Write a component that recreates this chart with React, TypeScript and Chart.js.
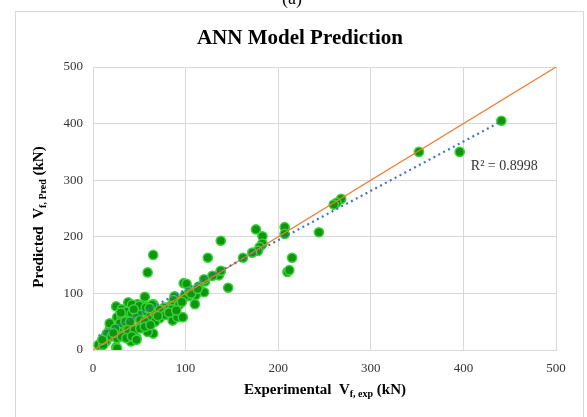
import React, { useEffect, useRef } from "react";
import { Chart, registerables } from "chart.js";

Chart.register(...registerables);

// Experimental V_f,exp (kN)
const expValues = [
  441, 352, 396, 268, 263, 260, 244, 215, 210, 212, 207, 207, 176, 183, 183, 180, 178, 172, 162,
  138, 124, 146, 138, 136, 129, 121, 120, 114, 111, 110, 98, 101, 103, 99, 88, 87, 84, 80, 77, 74,
  85, 86, 91, 97, 72, 66, 65, 56, 65, 59, 65, 59, 47, 41, 25, 18, 26, 38, 25, 31, 40, 46, 54, 51,
  54, 34, 33, 27, 8, 13, 14, 6, 48, 53, 58, 65, 31, 36, 42, 47, 53, 58, 62, 67, 72, 18, 29, 35,
  40, 51, 56, 67, 24, 38, 45, 51, 56, 62, 15, 20, 26, 31, 36, 42, 47, 11, 26, 42, 50, 57, 64, 120,
  138, 93, 96, 104, 106, 113, 78, 82, 70, 61, 44, 22, 10, 30, 90,
];
// Predicted V_f,Pred (kN)
const predValues = [
  405, 350, 350, 267, 260, 257, 208, 163, 138, 141, 217, 205, 213, 201, 188, 182, 175, 172, 163,
  193, 163, 110, 139, 132, 131, 121, 102, 112, 97, 81, 118, 117, 95, 96, 95, 88, 78, 75, 75, 71,
  72, 52, 58, 58, 56, 65, 80, 94, 168, 137, 29, 32, 21, 15, 5, 36, 58, 84, 77, 72, 58, 58, 56, 41,
  41, 47, 35, 37, 12, 23, 15, 9, 81, 79, 77, 81, 58, 68, 65, 65, 68, 68, 59, 65, 71, 47, 47, 50,
  50, 53, 50, 50, 38, 35, 35, 38, 41, 44, 29, 24, 21, 24, 21, 24, 18, 9, 3, 80, 78, 75, 80, 125,
  140, 80, 85, 103, 100, 108, 62, 66, 60, 74, 72, 30, 18, 66, 70,
];

// y = x reference line
const identityX = [0, 500];
const identityY = [0, 500];
// linear trendline
const trendX = [6, 441];
const trendY = [25, 404];

const axisTicks = [0, 100, 200, 300, 400, 500];
const chartTitle = "ANN Model Prediction";
const r2Label = "R² = 0.8998";

type Part = { t: string; sub?: boolean };

function drawParts(ctx: CanvasRenderingContext2D, parts: Part[], cx: number, baseY: number, size: number, subSize: number) {
  const mainFont = `bold ${size}px "Liberation Serif", "Times New Roman", serif`;
  const subFont = `bold ${subSize}px "Liberation Serif", "Times New Roman", serif`;
  let total = 0;
  const widths = parts.map((p) => {
    ctx.font = p.sub ? subFont : mainFont;
    const w = ctx.measureText(p.t).width;
    total += w;
    return w;
  });
  let x = cx - total / 2;
  ctx.textAlign = "left";
  ctx.textBaseline = "alphabetic";
  parts.forEach((p, i) => {
    ctx.font = p.sub ? subFont : mainFont;
    ctx.fillText(p.t, x, p.sub ? baseY + 3 : baseY);
    x += widths[i];
  });
}

const decorPlugin = {
  id: "decor",
  beforeDraw(chart: any) {
    const ctx = chart.ctx as CanvasRenderingContext2D;
    ctx.save();
    ctx.strokeStyle = "#d9d9d9";
    ctx.lineWidth = 1;
    ctx.strokeRect(15.5, 11.5, 568, 430);
    ctx.restore();
  },
  afterDraw(chart: any) {
    const ctx = chart.ctx as CanvasRenderingContext2D;
    const xs = chart.scales.x;
    const ys = chart.scales.y;
    ctx.save();
    ctx.fillStyle = "#000000";
    // caption (a)
    ctx.font = `18px "Liberation Serif", "Times New Roman", serif`;
    ctx.textAlign = "center";
    ctx.textBaseline = "alphabetic";
    ctx.fillText("(a)", 292, 4);
    // title
    ctx.font = `bold 21px "Liberation Serif", "Times New Roman", serif`;
    ctx.fillText(chartTitle, 300, 44);
    // x axis title
    drawParts(
      ctx,
      [{ t: "Experimental  V" }, { t: "f, exp", sub: true }, { t: " (kN)" }],
      325,
      394,
      15,
      10
    );
    // y axis title
    ctx.save();
    ctx.translate(43, 217);
    ctx.rotate(-Math.PI / 2);
    drawParts(
      ctx,
      [{ t: "Predicted  V" }, { t: "f, Pred", sub: true }, { t: " (kN)" }],
      0,
      0,
      15,
      10
    );
    ctx.restore();
    // R² label
    ctx.font = `14px "Liberation Serif", "Times New Roman", serif`;
    ctx.fillStyle = "#333333";
    ctx.textAlign = "left";
    ctx.fillText(r2Label, xs.getPixelForValue(408), ys.getPixelForValue(318));
    ctx.restore();
  },
};

export default function App() {
  const ref = useRef<HTMLCanvasElement | null>(null);
  useEffect(() => {
    if (!ref.current) return;
    const pts = expValues.map((x, i) => ({ x, y: predValues[i] }));
    const idLine = identityX.map((x, i) => ({ x, y: identityY[i] }));
    const trLine = trendX.map((x, i) => ({ x, y: trendY[i] }));
    const tickFont = { family: '"Liberation Serif", "Times New Roman", serif', size: 13 };
    const chart = new Chart(ref.current, {
      type: "scatter",
      data: {
        datasets: [
          {
            type: "scatter",
            data: pts,
            pointRadius: 4.6,
            pointBackgroundColor: "#109510",
            pointBorderColor: "#3ad43a",
            pointBorderWidth: 1.5,
            order: 3,
          } as any,
          {
            type: "line",
            data: idLine,
            borderColor: "#ed7d31",
            borderWidth: 1.2,
            pointRadius: 0,
            fill: false,
            order: 2,
          } as any,
          {
            type: "line",
            data: trLine,
            borderColor: "#4472c4",
            borderWidth: 2.2,
            borderDash: [2, 3.5],
            pointRadius: 0,
            fill: false,
            order: 1,
          } as any,
        ],
      },
      options: {
        responsive: false,
        animation: false,
        layout: { padding: { top: 67, right: 31, left: 0, bottom: 0 } },
        plugins: {
          legend: { display: false },
          tooltip: { enabled: false },
          title: { display: false },
        },
        scales: {
          x: {
            type: "linear",
            min: 0,
            max: 500,
            afterBuildTicks: (s: any) => {
              s.ticks = axisTicks.map((v) => ({ value: v }));
            },
            afterFit: (s: any) => {
              s.height = 67;
            },
            grid: { color: "#d9d9d9", lineWidth: 1, drawTicks: false },
            border: { color: "#d9d9d9" },
            ticks: { font: tickFont, color: "#333333", padding: 11 },
          },
          y: {
            type: "linear",
            min: 0,
            max: 500,
            afterBuildTicks: (s: any) => {
              s.ticks = axisTicks.map((v) => ({ value: v }));
            },
            afterFit: (s: any) => {
              s.width = 93;
            },
            grid: { color: "#d9d9d9", lineWidth: 1, drawTicks: false },
            border: { color: "#d9d9d9" },
            ticks: { font: tickFont, color: "#333333", padding: 10 },
          },
        },
      } as any,
      plugins: [decorPlugin],
    });
    return () => chart.destroy();
  }, []);
  return (
    <div style={{ position: "fixed", left: 0, top: 0, width: 587, height: 417, background: "#fff" }}>
      <canvas ref={ref} width={587} height={417} style={{ display: "block" }} />
    </div>
  );
}
